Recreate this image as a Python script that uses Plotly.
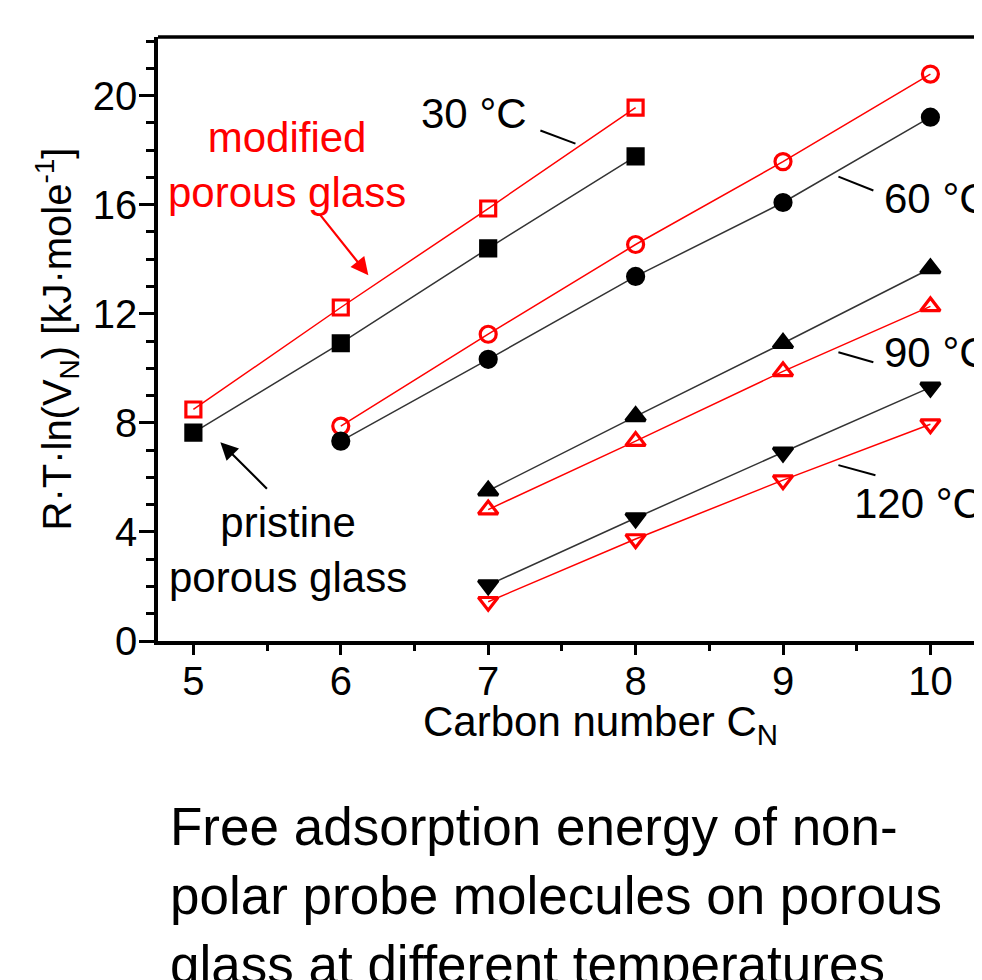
import plotly.graph_objects as go

carbon_30 = [5, 6, 7, 8]
mod_30 = [8.49, 12.23, 15.86, 19.56]
pri_30 = [7.64, 10.92, 14.40, 17.77]

carbon_60 = [6, 7, 8, 9, 10]
mod_60 = [7.88, 11.25, 14.54, 17.58, 20.79]
pri_60 = [7.33, 10.33, 13.37, 16.08, 19.21]

carbon_90 = [7, 8, 9, 10]
pri_90 = [5.51, 8.24, 10.92, 13.66]
mod_90 = [4.82, 7.33, 9.89, 12.27]

carbon_120 = [7, 8, 9, 10]
pri_120 = [2.05, 4.51, 6.92, 9.30]
mod_120 = [1.44, 3.74, 5.90, 7.95]

FONT = "Liberation Sans, Arial, sans-serif"
RED = "#ff0000"
BLACK = "#000000"

fig = go.Figure()

def add(x, y, color, symbol, lc, size):
    fig.add_trace(go.Scatter(
        x=x, y=y, mode="lines+markers",
        line=dict(color=lc, width=1.5),
        marker=dict(symbol=symbol, size=size, color=color,
                    line=dict(color=color, width=3.2)),
        showlegend=False, cliponaxis=False))

add(carbon_30, mod_30, RED, "square-open", RED, 15)
add(carbon_30, pri_30, BLACK, "square", "#333333", 15)
add(carbon_60, mod_60, RED, "circle-open", RED, 16)
add(carbon_60, pri_60, BLACK, "circle", "#333333", 16)
add(carbon_90, pri_90, BLACK, "triangle-up", "#333333", 17)
add(carbon_90, mod_90, RED, "triangle-up-open", RED, 17)
add(carbon_120, pri_120, BLACK, "triangle-down", "#333333", 17)
add(carbon_120, mod_120, RED, "triangle-down-open", RED, 17)

ann_font = dict(family=FONT, size=42, color=BLACK)
annotations = [
    dict(x=6.906, y=19.34, text="30 °C", showarrow=False, font=ann_font),
    dict(x=9.674, y=16.23, text="60 °C", showarrow=False, font=ann_font, xanchor="left"),
    dict(x=9.674, y=10.59, text="90 °C", showarrow=False, font=ann_font, xanchor="left"),
    dict(x=9.471, y=5.05, text="120 °C", showarrow=False, font=ann_font, xanchor="left"),
    dict(x=5.638, y=17.47, text="modified<br>porous glass", showarrow=False,
         font=dict(family=FONT, size=42, color=RED)),
    dict(x=5.645, y=3.35, text="pristine<br>porous glass", showarrow=False, font=ann_font),
    dict(x=6.187, y=13.41, ax=5.848, ay=15.71, axref="x", ayref="y", text="",
         showarrow=True, arrowhead=2, arrowsize=1.6, arrowwidth=2.2, arrowcolor=RED),
    dict(x=5.183, y=7.29, ax=5.509, ay=5.53, axref="x", ayref="y", text="",
         showarrow=True, arrowhead=2, arrowsize=1.6, arrowwidth=2.2, arrowcolor=BLACK),
    dict(x=7.76, xref="x", yref="paper", y=-0.139, xanchor="center", yanchor="middle",
         text="Carbon number C<sub>N</sub>",
         showarrow=False, font=dict(family=FONT, size=42, color=BLACK)),
    dict(xref="paper", yref="paper", x=0.012, y=-0.255, xanchor="left", yanchor="top",
         align="left", showarrow=False,
         text="Free adsorption energy of non-<br>polar probe molecules on porous<br>glass at different temperatures",
         font=dict(family=FONT, size=53, color=BLACK)),
]

leaders = [
    (7.354, 18.72, 7.592, 18.24),
    (9.376, 17.03, 9.613, 16.52),
    (9.376, 10.59, 9.613, 10.22),
    (9.376, 6.45, 9.627, 6.08),
]
shapes = [dict(type="line", xref="x", yref="y", x0=a, y0=b, x1=c, y1=d,
               line=dict(color=BLACK, width=2)) for a, b, c, d in leaders]
shapes.append(dict(type="line", xref="paper", yref="paper", x0=0, x1=1.05, y0=1, y1=1,
                   line=dict(color=BLACK, width=3.5)))

fig.update_layout(
    width=974, height=972,
    margin=dict(l=150, r=0, t=29, b=339),
    paper_bgcolor="white", plot_bgcolor="white",
    font=dict(family=FONT, size=40, color=BLACK),
    annotations=annotations, shapes=shapes,
    xaxis=dict(range=[4.76, 10.35], tickmode="array", tickvals=[5, 6, 7, 8, 9, 10],
               ticks="outside", ticklen=10, tickwidth=3, tickcolor=BLACK,
               showline=True, linewidth=3.5, linecolor=BLACK, showgrid=False, zeroline=False,
               tickfont=dict(family=FONT, size=40), ticklabelstandoff=-8,
               minor=dict(tickvals=[5.5, 6.5, 7.5, 8.5, 9.5], ticks="outside", ticklen=6,
                          tickwidth=3, tickcolor=BLACK, showgrid=False)),
    yaxis=dict(range=[0, 22.15], tickmode="array", tickvals=[0, 4, 8, 12, 16, 20],
               ticks="outside", ticklen=15, tickwidth=3, tickcolor=BLACK,
               showline=True, linewidth=3.5, linecolor=BLACK, showgrid=False, zeroline=False,
               tickfont=dict(family=FONT, size=40), ticklabelstandoff=-6,
               minor=dict(tickvals=[1, 2, 3, 5, 6, 7, 9, 10, 11, 13, 14, 15, 17, 18, 19, 21, 22],
                          ticks="outside", ticklen=8, tickwidth=3, tickcolor=BLACK, showgrid=False),
               title=dict(text="R·T·ln(V<sub>N</sub>) [kJ·mole<sup>-1</sup>]",
                          font=dict(family=FONT, size=40), standoff=10)),
)

fig.write_html("out.html")
